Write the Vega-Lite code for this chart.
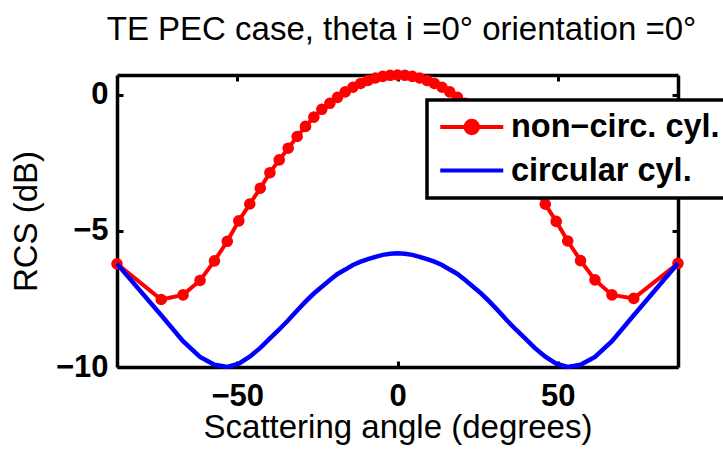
{
  "$schema": "https://vega.github.io/schema/vega-lite/v6.json",
  "width": 561,
  "height": 292,
  "autosize": {"type": "none"},
  "padding": {"left": 117, "top": 75, "right": 45, "bottom": 82},
  "background": "white",
  "config": {"view": {"stroke": null}, "font": "Liberation Sans"},
  "title": {"text": "TE PEC case, theta i =0° orientation =0°", "fontSize": 33, "fontWeight": "normal", "font": "Liberation Sans", "color": "black", "offset": 20, "dx": 4, "anchor": "middle"},
  "data": {"values": [
    {"s": "non−circ. cyl.", "x": -87.5, "y": -6.21},
    {"s": "non−circ. cyl.", "x": -73.7, "y": -7.52},
    {"s": "non−circ. cyl.", "x": -66.9, "y": -7.35},
    {"s": "non−circ. cyl.", "x": -61.6, "y": -6.82},
    {"s": "non−circ. cyl.", "x": -57.1, "y": -6.10},
    {"s": "non−circ. cyl.", "x": -53.1, "y": -5.38},
    {"s": "non−circ. cyl.", "x": -49.5, "y": -4.63},
    {"s": "non−circ. cyl.", "x": -46.1, "y": -4.01},
    {"s": "non−circ. cyl.", "x": -42.8, "y": -3.43},
    {"s": "non−circ. cyl.", "x": -39.8, "y": -2.86},
    {"s": "non−circ. cyl.", "x": -36.9, "y": -2.39},
    {"s": "non−circ. cyl.", "x": -34.1, "y": -1.96},
    {"s": "non−circ. cyl.", "x": -31.3, "y": -1.53},
    {"s": "non−circ. cyl.", "x": -28.7, "y": -1.16},
    {"s": "non−circ. cyl.", "x": -26.1, "y": -0.82},
    {"s": "non−circ. cyl.", "x": -23.6, "y": -0.53},
    {"s": "non−circ. cyl.", "x": -21.1, "y": -0.31},
    {"s": "non−circ. cyl.", "x": -18.7, "y": -0.09},
    {"s": "non−circ. cyl.", "x": -16.3, "y": 0.11},
    {"s": "non−circ. cyl.", "x": -13.9, "y": 0.28},
    {"s": "non−circ. cyl.", "x": -11.5, "y": 0.42},
    {"s": "non−circ. cyl.", "x": -9.2, "y": 0.53},
    {"s": "non−circ. cyl.", "x": -6.9, "y": 0.62},
    {"s": "non−circ. cyl.", "x": -4.6, "y": 0.68},
    {"s": "non−circ. cyl.", "x": -2.3, "y": 0.72},
    {"s": "non−circ. cyl.", "x": 0, "y": 0.73},
    {"s": "non−circ. cyl.", "x": 2.3, "y": 0.72},
    {"s": "non−circ. cyl.", "x": 4.6, "y": 0.68},
    {"s": "non−circ. cyl.", "x": 6.9, "y": 0.62},
    {"s": "non−circ. cyl.", "x": 9.2, "y": 0.53},
    {"s": "non−circ. cyl.", "x": 11.5, "y": 0.42},
    {"s": "non−circ. cyl.", "x": 13.9, "y": 0.28},
    {"s": "non−circ. cyl.", "x": 16.3, "y": 0.11},
    {"s": "non−circ. cyl.", "x": 18.7, "y": -0.09},
    {"s": "non−circ. cyl.", "x": 21.1, "y": -0.31},
    {"s": "non−circ. cyl.", "x": 23.6, "y": -0.53},
    {"s": "non−circ. cyl.", "x": 26.1, "y": -0.82},
    {"s": "non−circ. cyl.", "x": 28.7, "y": -1.16},
    {"s": "non−circ. cyl.", "x": 31.3, "y": -1.53},
    {"s": "non−circ. cyl.", "x": 34.1, "y": -1.96},
    {"s": "non−circ. cyl.", "x": 36.9, "y": -2.39},
    {"s": "non−circ. cyl.", "x": 39.8, "y": -2.86},
    {"s": "non−circ. cyl.", "x": 42.8, "y": -3.43},
    {"s": "non−circ. cyl.", "x": 46.1, "y": -4.02},
    {"s": "non−circ. cyl.", "x": 49.5, "y": -4.65},
    {"s": "non−circ. cyl.", "x": 53.1, "y": -5.37},
    {"s": "non−circ. cyl.", "x": 57.1, "y": -6.09},
    {"s": "non−circ. cyl.", "x": 61.6, "y": -6.80},
    {"s": "non−circ. cyl.", "x": 66.9, "y": -7.35},
    {"s": "non−circ. cyl.", "x": 73.7, "y": -7.48},
    {"s": "non−circ. cyl.", "x": 87.5, "y": -6.19},
    {"s": "circular cyl.", "x": -87.5, "y": -6.21},
    {"s": "circular cyl.", "x": -73.7, "y": -8.10},
    {"s": "circular cyl.", "x": -66.9, "y": -9.05},
    {"s": "circular cyl.", "x": -61.6, "y": -9.63},
    {"s": "circular cyl.", "x": -57.1, "y": -9.92},
    {"s": "circular cyl.", "x": -53.1, "y": -10.0},
    {"s": "circular cyl.", "x": -49.5, "y": -9.88},
    {"s": "circular cyl.", "x": -46.1, "y": -9.62},
    {"s": "circular cyl.", "x": -42.8, "y": -9.30},
    {"s": "circular cyl.", "x": -39.8, "y": -8.95},
    {"s": "circular cyl.", "x": -36.9, "y": -8.62},
    {"s": "circular cyl.", "x": -34.1, "y": -8.28},
    {"s": "circular cyl.", "x": -31.3, "y": -7.92},
    {"s": "circular cyl.", "x": -28.7, "y": -7.60},
    {"s": "circular cyl.", "x": -26.1, "y": -7.30},
    {"s": "circular cyl.", "x": -23.6, "y": -7.05},
    {"s": "circular cyl.", "x": -21.1, "y": -6.80},
    {"s": "circular cyl.", "x": -18.7, "y": -6.58},
    {"s": "circular cyl.", "x": -16.3, "y": -6.42},
    {"s": "circular cyl.", "x": -13.9, "y": -6.25},
    {"s": "circular cyl.", "x": -11.5, "y": -6.13},
    {"s": "circular cyl.", "x": -9.2, "y": -6.04},
    {"s": "circular cyl.", "x": -6.9, "y": -5.95},
    {"s": "circular cyl.", "x": -4.6, "y": -5.88},
    {"s": "circular cyl.", "x": -2.3, "y": -5.84},
    {"s": "circular cyl.", "x": 0, "y": -5.82},
    {"s": "circular cyl.", "x": 2.3, "y": -5.84},
    {"s": "circular cyl.", "x": 4.6, "y": -5.88},
    {"s": "circular cyl.", "x": 6.9, "y": -5.95},
    {"s": "circular cyl.", "x": 9.2, "y": -6.04},
    {"s": "circular cyl.", "x": 11.5, "y": -6.13},
    {"s": "circular cyl.", "x": 13.9, "y": -6.25},
    {"s": "circular cyl.", "x": 16.3, "y": -6.42},
    {"s": "circular cyl.", "x": 18.7, "y": -6.58},
    {"s": "circular cyl.", "x": 21.1, "y": -6.80},
    {"s": "circular cyl.", "x": 23.6, "y": -7.05},
    {"s": "circular cyl.", "x": 26.1, "y": -7.30},
    {"s": "circular cyl.", "x": 28.7, "y": -7.60},
    {"s": "circular cyl.", "x": 31.3, "y": -7.92},
    {"s": "circular cyl.", "x": 34.1, "y": -8.28},
    {"s": "circular cyl.", "x": 36.9, "y": -8.62},
    {"s": "circular cyl.", "x": 39.8, "y": -8.95},
    {"s": "circular cyl.", "x": 42.8, "y": -9.30},
    {"s": "circular cyl.", "x": 46.1, "y": -9.62},
    {"s": "circular cyl.", "x": 49.5, "y": -9.88},
    {"s": "circular cyl.", "x": 53.1, "y": -10.0},
    {"s": "circular cyl.", "x": 57.1, "y": -9.92},
    {"s": "circular cyl.", "x": 61.6, "y": -9.63},
    {"s": "circular cyl.", "x": 66.9, "y": -9.05},
    {"s": "circular cyl.", "x": 73.7, "y": -8.10},
    {"s": "circular cyl.", "x": 87.5, "y": -6.19}
  ]},
  "resolve": {"axis": {"x": "independent", "y": "independent"}},
  "layer": [
    {
      "transform": [{"filter": "datum.s === 'non−circ. cyl.'"}],
      "mark": {"type": "line", "strokeWidth": 4},
      "encoding": {
        "x": {"field": "x", "type": "quantitative", "scale": {"domain": [-87.5, 87.5], "nice": false, "zero": false},
          "axis": {"orient": "bottom", "values": [-50, 0, 50], "tickSize": -6, "tickWidth": 3, "tickColor": "black", "domainColor": "black", "domainWidth": 3.5, "grid": false, "labelFont": "Liberation Sans", "labelFontWeight": "bold", "labelFontSize": 31, "labelColor": "black", "labelPadding": 20, "labelFlush": false, "labelOverlap": false, "labelExpr": "replace(datum.label, '-', '−')", "title": "Scattering angle (degrees)", "titleFont": "Liberation Sans", "titleFontSize": 33, "titleFontWeight": "normal", "titleColor": "black", "titlePadding": 0}},
        "y": {"field": "y", "type": "quantitative", "scale": {"domain": [-10, 0.73], "nice": false, "zero": false},
          "axis": {"orient": "left", "values": [-10, -5, 0], "tickSize": -6, "tickWidth": 3, "tickColor": "black", "domainColor": "black", "domainWidth": 3.5, "grid": false, "labelFont": "Liberation Sans", "labelFontWeight": "bold", "labelFontSize": 31, "labelColor": "black", "labelPadding": 15, "labelFlush": false, "labelOverlap": false, "labelExpr": "replace(datum.label, '-', '−')", "title": "RCS (dB)", "titleFont": "Liberation Sans", "titleFontSize": 33, "titleFontWeight": "normal", "titleColor": "black", "titlePadding": 12}},
        "color": {"field": "s", "type": "nominal", "scale": {"domain": ["non−circ. cyl.", "circular cyl."], "range": ["#ff0000", "#0000ff"]},
          "legend": {"orient": "none", "legendX": 310, "legendY": 25, "title": null, "padding": 10.75, "rowPadding": 10.5, "fillColor": "white", "strokeColor": "black", "cornerRadius": 0, "symbolSize": 400, "symbolOffset": 17.75, "symbolStrokeWidth": 4, "labelOffset": 23, "labelFont": "Liberation Sans", "labelFontSize": 32.5, "labelFontWeight": "bold", "labelColor": "black", "labelLimit": 500,
            "encode": {
              "legend": {"update": {"strokeWidth": {"value": 3.5}}},
              "symbols": {"update": {
                "shape": {"signal": "datum.value === 'circular cyl.' ? 'M-3.15,0H3.15' : 'M-3.15,0H3.15M0.62,0A0.62,0.62,0,1,1,-0.62,0A0.62,0.62,0,1,1,0.62,0Z'"},
                "fill": {"signal": "datum.value === 'circular cyl.' ? 'transparent' : '#ff0000'"},
                "strokeWidth": {"value": 4},
                "opacity": {"value": 1}
              }}
            }}}
      }
    },
    {
      "transform": [{"filter": "datum.s === 'non−circ. cyl.'"}],
      "mark": {"type": "point", "filled": true, "size": 135, "opacity": 1, "color": "#ff0000"},
      "encoding": {
        "x": {"field": "x", "type": "quantitative", "axis": null},
        "y": {"field": "y", "type": "quantitative", "axis": null}
      }
    },
    {
      "transform": [{"filter": "datum.s === 'circular cyl.'"}],
      "mark": {"type": "line", "strokeWidth": 4.5},
      "encoding": {
        "x": {"field": "x", "type": "quantitative",
          "axis": {"orient": "top", "values": [-50, 0, 50], "tickSize": -6, "tickWidth": 3, "tickColor": "black", "domainColor": "black", "domainWidth": 3.5, "grid": false, "labels": false, "title": null}},
        "y": {"field": "y", "type": "quantitative",
          "axis": {"orient": "right", "values": [-10, -5, 0], "tickSize": -6, "tickWidth": 3, "tickColor": "black", "domainColor": "black", "domainWidth": 3.5, "grid": false, "labels": false, "title": null}},
        "color": {"field": "s", "type": "nominal"}
      }
    }
  ]
}
